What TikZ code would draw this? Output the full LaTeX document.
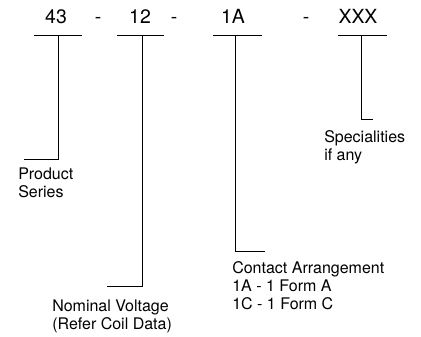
\documentclass[tikz,border=0pt]{standalone}
\usepackage{fontspec}
\setmainfont{TeX Gyre Heros}

\begin{document}
\begin{tikzpicture}[x=0.75pt,y=0.75pt,yscale=-1,xscale=1,
  code/.style={anchor=base,inner sep=0pt,font=\fontsize{14.6}{16}\selectfont},
  lbl/.style={anchor=north west,inner sep=0pt,align=left,font=\fontsize{12}{13.5}\selectfont},
  bar/.style={line width=0.75pt}]
\useasboundingbox (0,0) rectangle (421,336);

% Text Node
\draw (56,23.3) node [code] (ser) {43};
% Text Node
\draw (98,23.3) node [code] (dsh1) {-};
% Text Node
\draw (140,23.3) node [code] (volt) {12};
% Text Node
\draw (174,23.3) node [code] (dsh2) {-};
% Text Node
\draw (233,23.3) node [code] (cont) {1A};
% Text Node
\draw (306,23.3) node [code] (dsh3) {-};
% Text Node
\draw (358,23.3) node [code] (spec) {XXX};

%Coordinates
\coordinate (serL) at (34,35);   \coordinate (serR) at (82,35);
\coordinate (voltL) at (117,35); \coordinate (voltR) at (164,35);
\coordinate (contL) at (213,35); \coordinate (contR) at (262,35);
\coordinate (specL) at (338,35); \coordinate (specR) at (387,35);
\coordinate (serT) at (58,35);   \coordinate (serE) at (24,159);
\coordinate (voltT) at (142,35); \coordinate (voltE) at (107,286);
\coordinate (contT) at (235,35); \coordinate (contE) at (265,251);
\coordinate (specT) at (361,35); \coordinate (specE) at (373,119);

%Straight Lines
\draw [bar] (serL) -- (serR) ;
\draw [bar] (voltL) -- (voltR) ;
\draw [bar] (contL) -- (contR) ;
\draw [bar] (specL) -- (specR) ;
%Straight Lines
\draw [bar] (serT) |- (serE) ;
\draw [bar] (voltT) |- (voltE) ;
\draw [bar] (contT) |- (contE) ;
\draw [bar] (specT) |- (specE) ;

% Text Node
\draw (18,168) node [lbl] (serlbl) {Product\\Series};
% Text Node
\draw (52,300) node [lbl] (voltlbl) {Nominal Voltage\\(Refer Coil Data)};
% Text Node
\draw (232,261) node [lbl] (contlbl) {Contact Arrangement\\1A - 1 Form A\\1C - 1 Form C};
% Text Node
\draw (324,130) node [lbl] (speclbl) {Specialities\\if any};

\end{tikzpicture}
\end{document}
